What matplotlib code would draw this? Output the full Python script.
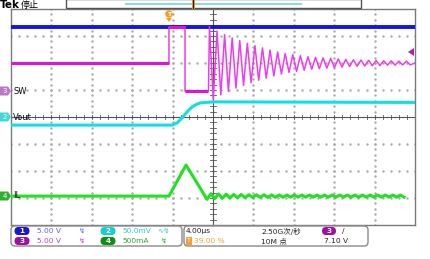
import matplotlib.pyplot as plt
import numpy as np
from matplotlib.patches import FancyBboxPatch, Polygon, Rectangle, Circle
from matplotlib.transforms import IdentityTransform

plt.rcParams['font.family'] = ['DejaVu Sans', 'Noto Sans CJK SC']

# time axis in microseconds (4 us/div), vertical in divisions
blue_t = [-20, 20]
blue_v = [3.33, 3.33]

# SW node (ch3) before ringing
sw_t = [-20, -4.36, -4.36, -2.77, -2.77, -0.45]
sw_v = [2.0, 2.0, 3.33, 3.33, 0.96, 0.96]
ring_start = -0.35
ring_period = 0.75
ring_center = 2.0
ring_amp = [1.35, 1.18, 1.05, 0.93, 0.83, 0.73, 0.64, 0.56, 0.48, 0.41, 0.35, 0.31,
            0.27, 0.23, 0.21, 0.19, 0.17, 0.15, 0.13, 0.12, 0.11, 0.10, 0.09, 0.08,
            0.08, 0.07, 0.07]

# Vout (ch2)
vout_t = [-20, -4.06, -3.56, -3.07, -2.57, -2.08, -1.68, -1.29, 0, 20]
vout_v = [-0.30, -0.30, -0.22, -0.04, 0.19, 0.37, 0.46, 0.52, 0.56, 0.54]

# inductor current (ch4)
il_t = [-20, -4.36, -2.67, -0.59]
il_v = [-2.93, -2.93, -1.78, -3.05]
il_center = -2.93
il_amp = [0.09, 0.08, 0.07, 0.06, 0.06, 0.05, 0.05, 0.05, 0.045, 0.045, 0.04, 0.04,
          0.04, 0.04, 0.04, 0.04, 0.04, 0.04, 0.04, 0.04, 0.04, 0.04, 0.04, 0.04,
          0.04, 0.04]

W, H = 431, 259
fig = plt.figure(figsize=(W / 100, H / 100), dpi=100)
PX = IdentityTransform()


def P(x, y):
    return (x, H - y)


ax = fig.add_axes([11 / W, 1 - 225 / H, (415 - 11) / W, (225 - 9) / H])
ax.set_xlim(-20, 20)
ax.set_ylim(-4, 4)
ax.set_xticks([])
ax.set_yticks([])
for s in ax.spines.values():
    s.set_color('#7a7a7a')
    s.set_linewidth(1.0)

# graticule
for gx in np.arange(-16, 20, 4):
    if gx == 0:
        continue
    yy = np.arange(-4, 4.01, 0.2)
    ax.plot(np.full_like(yy, gx), yy, ls='none', marker='s', ms=0.7, color='#aaaaaa')
for gy in np.arange(-3, 4, 1):
    if gy == 0:
        continue
    xx = np.arange(-20, 20.01, 0.8)
    ax.plot(xx, np.full_like(xx, gy), ls='none', marker='s', ms=0.7, color='#aaaaaa')
ax.axhline(0, color='#555555', lw=0.8)
ax.axvline(0, color='#555555', lw=0.8)
for tx in np.arange(-20, 20.01, 0.8):
    ax.plot([tx, tx], [-0.08, 0.08], color='#555555', lw=0.6)
for ty in np.arange(-4, 4.01, 0.2):
    ax.plot([-0.25, 0.25], [ty, ty], color='#555555', lw=0.6)

# ch1
ax.plot(blue_t, blue_v, color='#1414e6', lw=2.8, solid_capstyle='butt', zorder=3)

# ch3 switching node
rt, rv = list(sw_t), list(sw_v)
for k, a in enumerate(ring_amp):
    t0 = ring_start + k * ring_period
    rt += [t0, t0 + ring_period / 2]
    rv += [ring_center + a, ring_center - a]
rt.append(20)
rv.append(ring_center)
ax.plot(rt, rv, color='#ec3cec', lw=1.1, zorder=4)
for i in range(len(sw_t) - 1):
    if sw_v[i] == sw_v[i + 1]:
        ax.plot(sw_t[i:i + 2], sw_v[i:i + 2], color='#e010e0', lw=2.2,
                solid_capstyle='butt', zorder=4)

# ch2 Vout
ax.plot(vout_t, vout_v, color='#12e0e0', lw=2.2, zorder=3)

# ch4 IL
gt, gv = list(il_t), list(il_v)
for k, a in enumerate(il_amp):
    t0 = -0.2 + k * ring_period
    gt += [t0, t0 + ring_period / 2]
    gv += [il_center + a, il_center - a]
ax.plot(gt, gv, color='#22e022', lw=2.2, zorder=3)

# ---- top bar
fig.text(*P(0, 5), 'Tek', transform=PX, fontsize=7.5, fontweight='bold', va='center')
fig.text(*P(21, 5), '停止', transform=PX, fontsize=6.5, va='center')
fig.add_artist(Rectangle(P(66, 8), 295, 9, transform=PX, fc='white', ec='#555555', lw=1))
fig.add_artist(Rectangle(P(125, 5), 177, 2, transform=PX, fc='#88dede', ec='none'))
fig.add_artist(Rectangle(P(191.5, 9), 3, 9, transform=PX, fc='#e89020', ec='none'))
fig.add_artist(Rectangle(P(192.5, 9), 1, 9, transform=PX, fc='#222222', ec='none'))

# trigger marker
fig.add_artist(Circle(P(169, 14), 3.8, transform=PX, fc='#f0a020', ec='none'))
fig.text(*P(169, 14), 'T', transform=PX, fontsize=4.5, color='white', fontweight='bold',
         ha='center', va='center')
fig.add_artist(Polygon([P(166, 18), P(172, 18), P(169, 22)], transform=PX, fc='#f0a020', ec='none'))

# trigger level arrow on the right
fig.add_artist(Polygon([P(408, 52), P(414, 48), P(414, 56)], transform=PX, fc='#b020b0', ec='none'))

# channel markers on the left
def marker(y, color, label, num):
    fig.add_artist(Polygon([P(0, y - 4.5), P(8, y - 4.5), P(11, y), P(8, y + 4.5), P(0, y + 4.5)],
                           transform=PX, fc=color, ec='none'))
    fig.text(*P(4.5, y), num, transform=PX, fontsize=5, color='white', ha='center', va='center')
    fig.text(*P(13, y), label, transform=PX, fontsize=6, color='#111111', va='center')


marker(91, '#b878c8', 'SW', '3')
marker(117, '#40d8d8', 'Vout', '2')
marker(196, '#30b030', 'IL', '4')

# ---- bottom readout
fig.add_artist(FancyBboxPatch(P(11, 246), 171, 20, transform=PX,
                              boxstyle='round,pad=0,rounding_size=4', fc='white', ec='#8a8a8a', lw=1))
fig.add_artist(FancyBboxPatch(P(184, 246), 184, 20, transform=PX,
                              boxstyle='round,pad=0,rounding_size=4', fc='white', ec='#8a8a8a', lw=1))


def pill(xc, y, color, num, w=15, h=8):
    fig.add_artist(FancyBboxPatch(P(xc - w / 2, y + h / 2), w, h, transform=PX,
                                  boxstyle='round,pad=0,rounding_size=4', fc=color, ec='none'))
    fig.text(*P(xc, y), num, transform=PX, fontsize=5.2, color='white', fontweight='bold',
             ha='center', va='center')


fs = 5.4
pill(22, 231, '#1818c8', '1')
fig.text(*P(37, 231), '5.00 V', transform=PX, fontsize=fs, color='#6060e8', va='center')
fig.text(*P(79, 231), '\u21af', transform=PX, fontsize=fs, color='#6060e8', va='center')
pill(22, 241, '#a010a0', '3')
fig.text(*P(37, 241), '5.00 V', transform=PX, fontsize=fs, color='#c040c0', va='center')
fig.text(*P(79, 241), '\u21af', transform=PX, fontsize=fs, color='#c040c0', va='center')
pill(108, 231, '#10d0d0', '2')
fig.text(*P(122, 231), '50.0mV', transform=PX, fontsize=fs, color='#30c8c8', va='center')
fig.text(*P(157, 231), '\u223f\u21af', transform=PX, fontsize=fs, color='#30c8c8', va='center')
pill(108, 241, '#109010', '4')
fig.text(*P(122, 241), '500mA', transform=PX, fontsize=fs, color='#30a030', va='center')
fig.text(*P(161, 241), '\u21af', transform=PX, fontsize=fs, color='#30a030', va='center')

fig.text(*P(186, 231), '4.00µs', transform=PX, fontsize=fs, color='#222222', va='center')
fig.add_artist(Rectangle(P(186, 245), 6, 8, transform=PX, fc='#f0a030', ec='none'))
fig.text(*P(189, 241), 'T', transform=PX, fontsize=4.5, color='white', ha='center', va='center')
fig.text(*P(194, 241), '39.00 %', transform=PX, fontsize=fs, color='#f0a030', va='center')
fig.text(*P(261, 231), '2.50G次/秒', transform=PX, fontsize=fs, color='#222222', va='center')
fig.text(*P(261, 241), '10M 点', transform=PX, fontsize=fs, color='#222222', va='center')
pill(329, 231, '#a010a0', '3', w=14)
fig.text(*P(342, 231), '/', transform=PX, fontsize=fs, color='#222222', va='center')
fig.text(*P(324, 241), '7.10 V', transform=PX, fontsize=fs, color='#222222', va='center')

fig.savefig('out.png', dpi=100)
